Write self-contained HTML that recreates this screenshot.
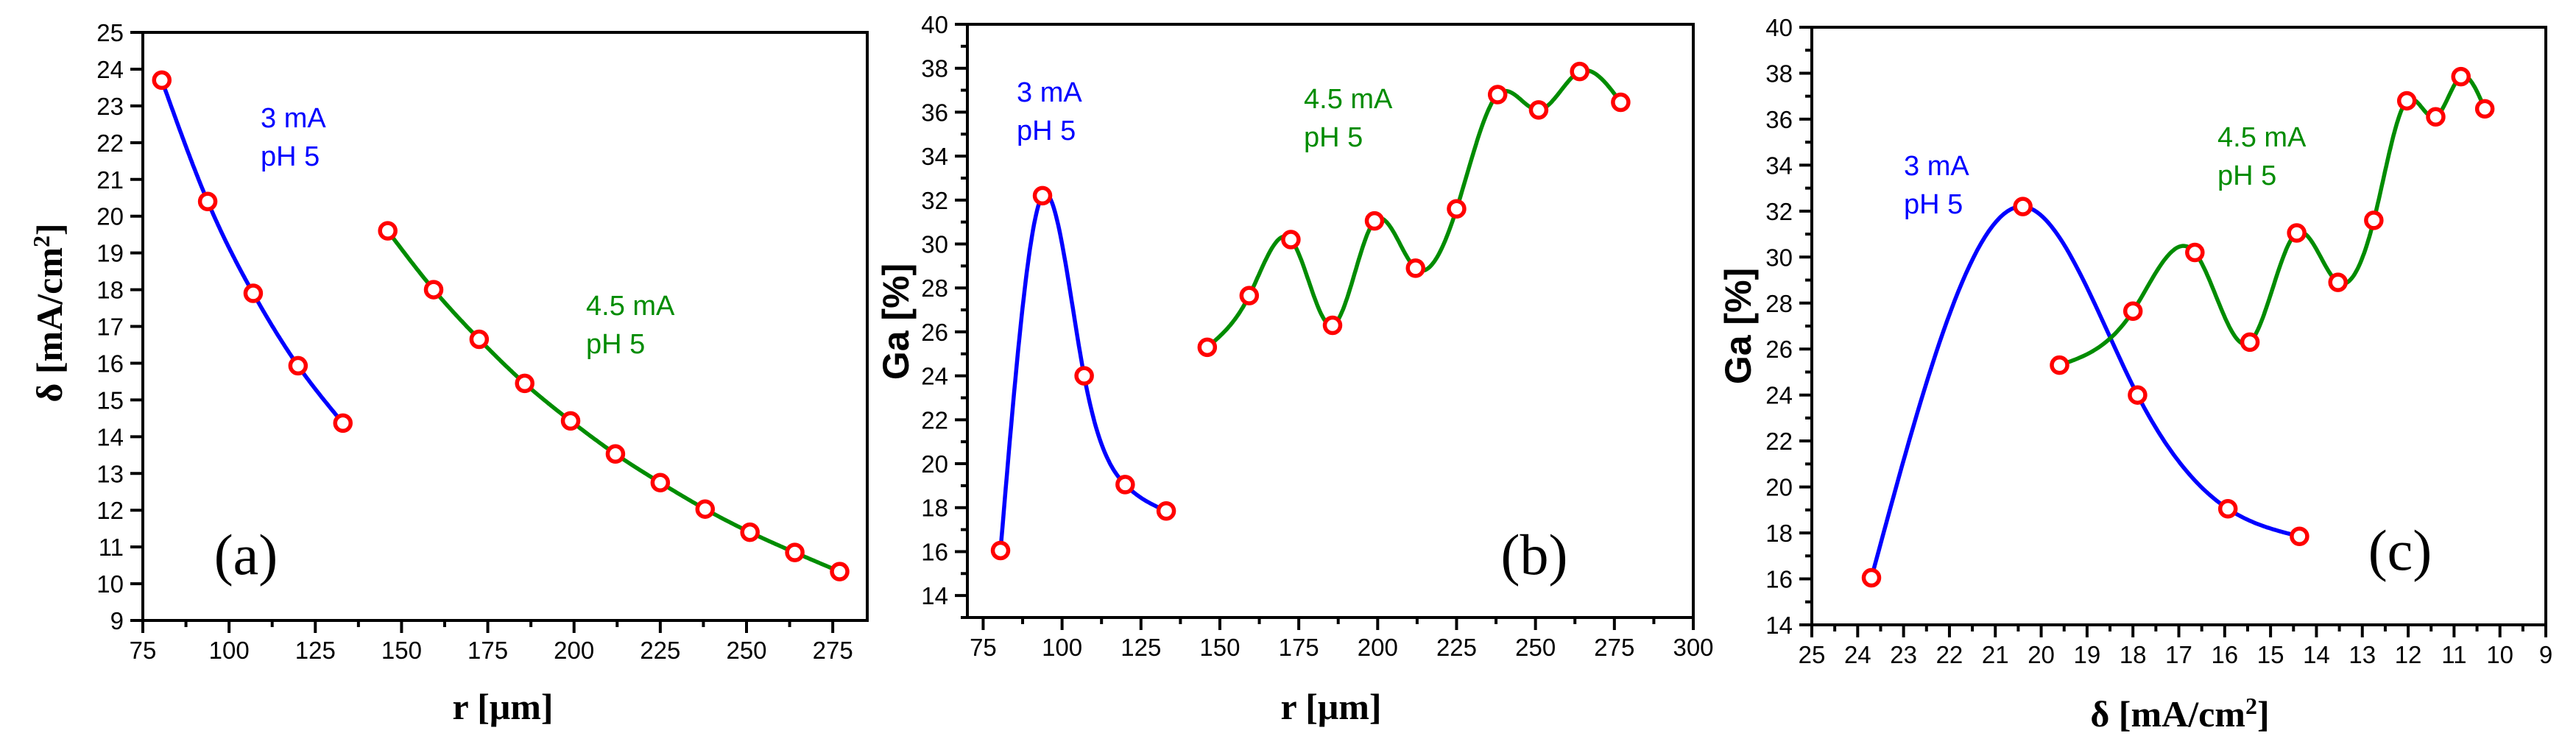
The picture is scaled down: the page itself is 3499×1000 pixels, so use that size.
<!DOCTYPE html>
<html><head><meta charset="utf-8">
<style>
html,body{margin:0;padding:0;background:#fff;}
svg{display:block;}
text{font-family:"Liberation Sans",sans-serif;}
.ser{font-family:"Liberation Serif",serif;}
</style></head>
<body>
<svg id="fig" width="3499" height="1000" viewBox="0 0 3499 1000" xmlns="http://www.w3.org/2000/svg"></svg>
<script>
// ---- data ----
const rBlue = [80.5, 93.8, 107, 120, 133];
const rGreen = [146, 159.3, 172.5, 185.7, 199, 212, 225, 238, 251, 264, 277];
const deltaBlue = [23.7, 20.4, 17.9, 15.93, 14.37];
const deltaGreen = [19.6, 18.0, 16.65, 15.45, 14.43, 13.53, 12.75, 12.03, 11.4, 10.85, 10.33];
const gaBlue = [16.05, 32.2, 24.0, 19.05, 17.85];
const gaGreen = [25.3, 27.65, 30.2, 26.3, 31.05, 28.9, 31.6, 36.8, 36.1, 37.85, 36.45];
const ticksA_x = [75,100,125,150,175,200,225,250,275];
const ticksA_y = [9,10,11,12,13,14,15,16,17,18,19,20,21,22,23,24,25];
const ticksB_x = [75,100,125,150,175,200,225,250,275,300];
const ticksB_y = [14,16,18,20,22,24,26,28,30,32,34,36,38,40];
const ticksC_x = [25,24,23,22,21,20,19,18,17,16,15,14,13,12,11,10,9];
const ticksC_y = [14,16,18,20,22,24,26,28,30,32,34,36,38,40];

const NS = "http://www.w3.org/2000/svg";
const svg = document.getElementById('fig');
function mk(tag, attrs, parent){
  const e = document.createElementNS(NS, tag);
  for (const k in attrs) e.setAttribute(k, attrs[k]);
  (parent||svg).appendChild(e);
  return e;
}
function spline(xs, ys){
  let pts = xs.map((x,i)=>[x,ys[i]]);
  if (pts[0][0] > pts[pts.length-1][0]) pts = pts.reverse();
  const n = pts.length, x = pts.map(p=>p[0]), y = pts.map(p=>p[1]);
  const h=[],al=[],l=[1],mu=[0],z=[0],c=new Array(n).fill(0),b=[],d=[];
  for(let i=0;i<n-1;i++) h[i]=x[i+1]-x[i];
  for(let i=1;i<n-1;i++) al[i]=3/h[i]*(y[i+1]-y[i])-3/h[i-1]*(y[i]-y[i-1]);
  for(let i=1;i<n-1;i++){l[i]=2*(x[i+1]-x[i-1])-h[i-1]*mu[i-1];mu[i]=h[i]/l[i];z[i]=(al[i]-h[i-1]*z[i-1])/l[i];}
  for(let j=n-2;j>=0;j--){ if(j>0) c[j]=z[j]-mu[j]*c[j+1]; else c[j]=0; b[j]=(y[j+1]-y[j])/h[j]-h[j]*(c[j+1]+2*c[j])/3; d[j]=(c[j+1]-c[j])/(3*h[j]);}
  const out=[];
  for(let i=0;i<n-1;i++){
    for(let k=0;k<=40;k++){
      const t=h[i]*k/40;
      out.push([x[i]+t, y[i]+b[i]*t+c[i]*t*t+d[i]*t*t*t]);
    }
  }
  return out;
}
function panel(cfg){
  const g = mk('g', {});
  
  
  const {L,R,T,B,x0,x1,y0,y1} = cfg;
  const sx = v => L + (v-x0)/(x1-x0)*(R-L);
  const sy = v => B - (v-y0)/(y1-y0)*(B-T);
  cfg.xMinor.forEach(v=>{const t=mk('line',{x1:sx(v),x2:sx(v),y1:B,y2:B+9,stroke:'#000','stroke-width':4},g);
    });
  cfg.yMinor.forEach(v=>{const t=mk('line',{x1:L,x2:L-9,y1:sy(v),y2:sy(v),stroke:'#000','stroke-width':4},g);
    });
  cfg.xTicks.forEach(v=>{
    const t=mk('line',{x1:sx(v),x2:sx(v),y1:B,y2:B+17,stroke:'#000','stroke-width':4},g);
    
    const tx=mk('text',{x:sx(v),y:B+52,'font-size':33,'text-anchor':'middle'},g);
    tx.textContent=v;
    
  });
  cfg.yTicks.forEach(v=>{
    const t=mk('line',{x1:L,x2:L-17,y1:sy(v),y2:sy(v),stroke:'#000','stroke-width':4},g);
    
    const tx=mk('text',{x:L-26,y:sy(v)+12,'font-size':33,'text-anchor':'end'},g);
    tx.textContent=v;
    
  });
  const fr=mk('rect',{x:L,y:T,width:R-L,height:B-T,fill:'none',stroke:'#000','stroke-width':4},g);
  
  cfg.series.forEach(s=>{
    const pts = spline(s.x, s.y);
    const p = mk('path',{d:'M'+pts.map(q=>sx(q[0]).toFixed(1)+','+sy(q[1]).toFixed(1)).join('L'),fill:'none',stroke:s.color,'stroke-width':5.5},g);
    
    
    s.x.forEach((xv,i)=>{
      const c=mk('circle',{cx:sx(xv),cy:sy(s.y[i]),r:10.5,fill:'#fff',stroke:'#ff0000','stroke-width':5.5},g);
      
      
    });
  });
  cfg.labels.forEach(lb=>{
    lb.lines.forEach((ln,i)=>{
      const t=mk('text',{x:lb.x,y:lb.y+i*52,'font-size':38,fill:lb.color},g);
      t.textContent=ln;
      
      
    });
  });
  const pl=mk('text',{x:cfg.tag[0],y:cfg.tag[1],'font-size':78,'text-anchor':'middle',class:'ser'},g);
  pl.textContent=cfg.tag[2];
  
  return g;
}
function rng(a,b,s){const o=[];for(let v=a;v<=b+1e-9;v+=s)o.push(+v.toFixed(3));return o;}

panel({name:'panel-a',L:194,R:1178,T:44,B:843,x0:75,x1:285,y0:9,y1:25,
  xTicks:ticksA_x,yTicks:ticksA_y,xMinor:rng(87.5,285,25),yMinor:[],
  series:[{name:'blue-3ma',x:rBlue,y:deltaBlue,color:'#0000ff'},{name:'green-4-5ma',x:rGreen,y:deltaGreen,color:'#008c00'}],
  labels:[{name:'label-3ma',x:354,y:173,lines:['3 mA','pH 5'],color:'#0000ff'},{name:'label-4-5ma',x:796,y:428,lines:['4.5 mA','pH 5'],color:'#008c00'}],
  tag:[334,780,'(a)']});
panel({name:'panel-b',L:1314,R:2300,T:33,B:839,x0:70,x1:300,y0:13,y1:40,
  xTicks:ticksB_x,yTicks:ticksB_y,xMinor:rng(87.5,290,25),yMinor:rng(13,39,2),
  series:[{name:'blue-3ma',x:rBlue,y:gaBlue,color:'#0000ff'},{name:'green-4-5ma',x:rGreen,y:gaGreen,color:'#008c00'}],
  labels:[{name:'label-3ma',x:1381,y:138,lines:['3 mA','pH 5'],color:'#0000ff'},{name:'label-4-5ma',x:1771,y:147,lines:['4.5 mA','pH 5'],color:'#008c00'}],
  tag:[2084,780,'(b)']});
panel({name:'panel-c',L:2461,R:3458,T:37,B:849,x0:25,x1:9,y0:14,y1:40,
  xTicks:ticksC_x,yTicks:ticksC_y,xMinor:rng(9.5,24.5,1),yMinor:rng(15,39,2),
  series:[{name:'blue-3ma',x:deltaBlue,y:gaBlue,color:'#0000ff'},{name:'green-4-5ma',x:deltaGreen,y:gaGreen,color:'#008c00'}],
  labels:[{name:'label-3ma',x:2586,y:238,lines:['3 mA','pH 5'],color:'#0000ff'},{name:'label-4-5ma',x:3012,y:199,lines:['4.5 mA','pH 5'],color:'#008c00'}],
  tag:[3260,774,'(c)']});
</script>
<div style="position:absolute;left:0;top:0;width:3499px;height:1000px;pointer-events:none;">
  <svg width="3499" height="1000" style="position:absolute;left:0;top:0">
    <text x="683" y="977" font-size="50" font-weight="bold" text-anchor="middle" style="font-family:'Liberation Serif',serif">r [μm]</text>
    <text transform="translate(84,425) rotate(-90)" font-size="50" font-weight="bold" text-anchor="middle" style="font-family:'Liberation Serif',serif">δ [mA/cm<tspan dy="-17" font-size="32">2</tspan><tspan dy="17">]</tspan></text>
    <text x="1808" y="977" font-size="50" font-weight="bold" text-anchor="middle" style="font-family:'Liberation Serif',serif">r [μm]</text>
    <text transform="translate(1234,437) rotate(-90)" font-size="50" font-weight="bold" text-anchor="middle" style="font-family:'Liberation Sans',sans-serif">Ga [%]</text>
    <text x="2961" y="987" font-size="50" font-weight="bold" text-anchor="middle" style="font-family:'Liberation Serif',serif">δ [mA/cm<tspan dy="-17" font-size="32">2</tspan><tspan dy="17">]</tspan></text>
    <text transform="translate(2378,443) rotate(-90)" font-size="50" font-weight="bold" text-anchor="middle" style="font-family:'Liberation Sans',sans-serif">Ga [%]</text>
  </svg>
</div>
</body></html>
